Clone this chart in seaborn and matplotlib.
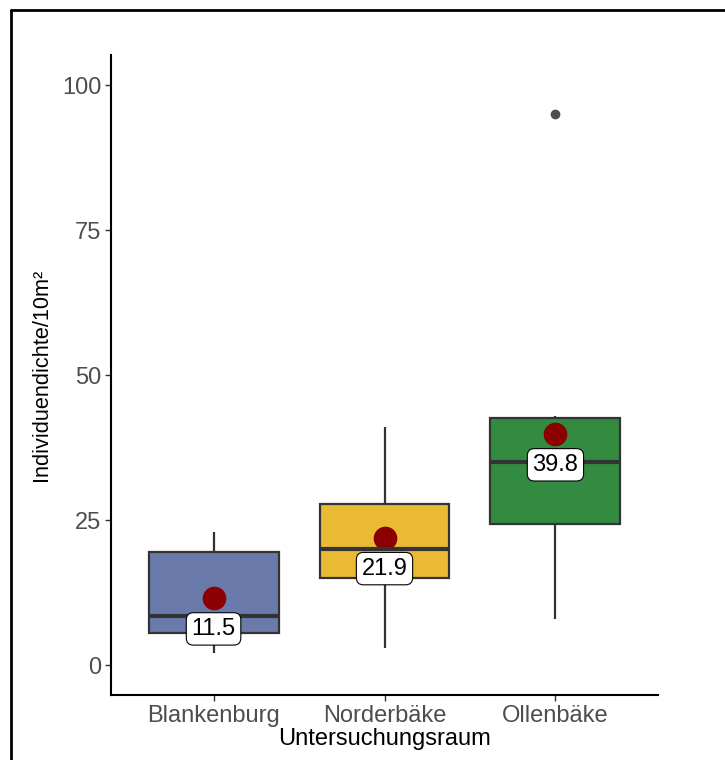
import numpy as np
import pandas as pd
import matplotlib
import matplotlib.pyplot as plt
import seaborn as sns
from matplotlib.lines import Line2D

matplotlib.use('Agg')

# Daten je Untersuchungsraum (Individuendichte/10m²)
gebiete = ['Blankenburg', 'Norderbäke', 'Ollenbäke']
blankenburg = [2, 4, 5.5, 7, 8.5, 13, 19.5, 21, 23]
norderbaeke = [3, 14, 15, 19, 20, 24, 27.7, 33.4, 41]
ollenbaeke = [8, 22.8, 28.8, 41.2, 43, 95]
farben = ['#6A7BAB', '#EBBA35', '#338B41']
y_ticks = [0, 25, 50, 75, 100]

df = pd.DataFrame({
    'Untersuchungsraum': (['Blankenburg'] * len(blankenburg)
                          + ['Norderbäke'] * len(norderbaeke)
                          + ['Ollenbäke'] * len(ollenbaeke)),
    'dichte': blankenburg + norderbaeke + ollenbaeke,
})

sns.set_style('white')
plt.rcParams['font.family'] = ['Liberation Sans', 'DejaVu Sans']

fig = plt.figure(figsize=(7.25, 7.6), dpi=100)
ax = fig.add_axes([0.1531, 0.0855, 0.7545, 0.8421])

sns.boxplot(
    data=df, x='Untersuchungsraum', y='dichte', hue='Untersuchungsraum',
    order=gebiete, hue_order=gebiete, palette=farben, legend=False,
    width=0.76, linecolor='#333333', linewidth=1.6, saturation=1,
    showcaps=False,
    medianprops={'linewidth': 3, 'color': '#333333'},
    flierprops={'marker': 'o', 'markersize': 6, 'markerfacecolor': '#4D4D4D',
                'markeredgecolor': '#4D4D4D'},
    ax=ax,
)

# Mittelwerte als rote Punkte
sns.pointplot(
    data=df, x='Untersuchungsraum', y='dichte', order=gebiete,
    estimator='mean', errorbar=None, linestyle='none', color='#8B0000',
    markers='o', markersize=15, ax=ax,
)

means = df.groupby('Untersuchungsraum')['dichte'].mean().reindex(gebiete)
for i, m in enumerate(means):
    ax.annotate(f'{m:.1f}', (i, m), xytext=(0, -22), textcoords='offset points',
                ha='center', va='center', fontsize=17, color='black',
                bbox=dict(boxstyle='round,pad=0.22,rounding_size=0.3',
                          fc='white', ec='black', lw=0.8))

ax.set_xlim(-0.6, 2.6)
ax.set_ylim(-5.17, 105.2)
ax.set_yticks(y_ticks)
ax.set_xlabel('Untersuchungsraum', fontsize=17, color='black', labelpad=1)
ax.set_ylabel('Individuendichte/10m²', fontsize=15.7, color='black', labelpad=7)
ax.tick_params(axis='both', labelsize=17, labelcolor='#4D4D4D', length=4,
               width=1, color='#333333', left=True, bottom=True, pad=3)
sns.despine(ax=ax)
for s in ['left', 'bottom']:
    ax.spines[s].set_color('black')
    ax.spines[s].set_linewidth(1.5)

# Rahmen um die Grafik
fig.add_artist(Line2D([0.0152, 0.0152], [0, 0.987], transform=fig.transFigure,
                      color='black', lw=2))
fig.add_artist(Line2D([0.0152, 1], [0.987, 0.987], transform=fig.transFigure,
                      color='black', lw=2))

fig.savefig('out.png', dpi=100)
